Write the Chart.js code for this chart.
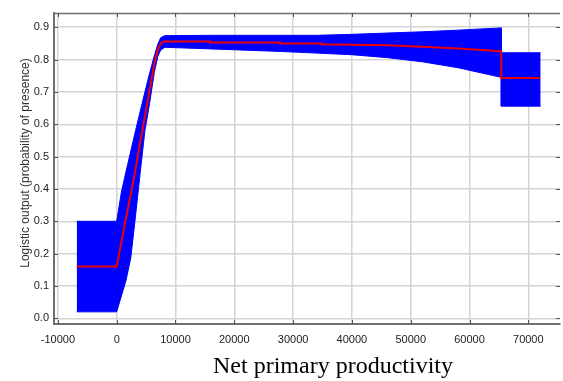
<!DOCTYPE html>
<html>
<head>
<meta charset="utf-8">
<script src="https://cdn.jsdelivr.net/npm/chart.js@4.4.1/dist/chart.umd.min.js"></script>
<style>
    html, body { margin: 0; padding: 0; background: #ffffff; }
    #wrap { width: 563px; height: 381px; }
</style>
</head>
<body>
<div id="wrap"><canvas id="chart" width="563" height="381"></canvas></div>
<script>
// response curve values
const bandX =     [-6800, 0,    800,   1600,  2400,  3200,  4000,  4800,  5600,  6400,  7000,  7500,  8200,  16000, 28000, 34000, 40000, 46000, 52000, 58000, 65400, 65400, 72100];
const bandUpper = [0.30,  0.30, 0.39,  0.455, 0.517, 0.58,  0.64,  0.70,  0.758, 0.812, 0.848, 0.868, 0.874, 0.875, 0.875, 0.875, 0.878, 0.882, 0.886, 0.891, 0.898, 0.821, 0.821];
const bandLower = [0.02,  0.02, 0.069, 0.118, 0.187, 0.316, 0.45,  0.58,  0.665, 0.76,  0.81,  0.83,  0.838, 0.833, 0.825, 0.82,  0.815, 0.806, 0.793, 0.775, 0.745, 0.656, 0.656];

const meanX = [-6800, 0,    1400,  2800, 4000,  5300,  6500,  7000, 7500, 8000,  15900, 15900, 27800, 27800, 34900, 34900, 40000, 46000, 52000, 58000, 63500, 65400, 65400, 72000];
const meanY = [0.16,  0.16, 0.293, 0.42, 0.545, 0.674, 0.797, 0.83, 0.85, 0.856, 0.856, 0.853, 0.853, 0.850, 0.850, 0.847, 0.846, 0.844, 0.840, 0.834, 0.828, 0.825, 0.743, 0.743];

const xTicks = [-10000, 0, 10000, 20000, 30000, 40000, 50000, 60000, 70000];
const yTicks = [0, 0.1, 0.2, 0.3, 0.4, 0.5, 0.6, 0.7, 0.8, 0.9];

const xTitle = 'Net primary productivity';
const yTitle = 'Logistic output (probability of presence)';

function toPoints(xs, ys) {
    return xs.map((x, i) => ({ x: x, y: ys[i] }));
}

// frame, inward tick marks and the axis titles
const framePlugin = {
    id: 'frame',
    afterDraw(chart) {
        const ctx = chart.ctx;
        const a = chart.chartArea;
        const xs = chart.scales.x;
        const ys = chart.scales.y;
        ctx.save();
        ctx.strokeStyle = '#707070';
        ctx.lineWidth = 1.5;
        ctx.beginPath();
        ctx.moveTo(a.left, a.top + 0.5);
        ctx.lineTo(a.right, a.top + 0.5);
        ctx.stroke();

        ctx.strokeStyle = '#555555';
        ctx.lineWidth = 1;
        ctx.beginPath();
        xTicks.forEach(v => {
            const px = Math.round(xs.getPixelForValue(v)) + 0.5;
            ctx.moveTo(px, a.bottom);
            ctx.lineTo(px, a.bottom - 4);
            ctx.moveTo(px, a.top);
            ctx.lineTo(px, a.top + 4);
        });
        yTicks.forEach(v => {
            const py = Math.round(ys.getPixelForValue(v)) + 0.5;
            ctx.moveTo(a.left, py);
            ctx.lineTo(a.left + 4, py);
            ctx.moveTo(a.right, py);
            ctx.lineTo(a.right - 4, py);
        });
        ctx.stroke();

        ctx.fillStyle = '#000000';
        ctx.font = '24px "Liberation Serif", "Times New Roman", serif';
        ctx.textAlign = 'center';
        ctx.textBaseline = 'alphabetic';
        ctx.fillText(xTitle, 333, 373);

        ctx.fillStyle = '#333333';
        ctx.font = '12px "Liberation Sans", Arial, sans-serif';
        ctx.translate(29, 163);
        ctx.rotate(-Math.PI / 2);
        ctx.fillText(yTitle, 0, 0);
        ctx.restore();
    }
};

const ctx = document.getElementById('chart').getContext('2d');
const chart = new Chart(ctx, {
    type: 'line',
    data: {
        datasets: [
            {
                label: 'mean',
                data: toPoints(meanX, meanY),
                borderColor: '#ee0000',
                borderWidth: 2,
                pointRadius: 0,
                tension: 0,
                fill: false
            },
            {
                label: 'upper',
                data: toPoints(bandX, bandUpper),
                borderColor: '#0000ff',
                borderWidth: 1,
                pointRadius: 0,
                tension: 0,
                fill: false
            },
            {
                label: 'lower',
                data: toPoints(bandX, bandLower),
                borderColor: '#0000ff',
                backgroundColor: '#0000ff',
                borderWidth: 1,
                pointRadius: 0,
                tension: 0,
                fill: '-1'
            }
        ]
    },
    options: {
        responsive: false,
        animation: false,
        devicePixelRatio: 1,
        layout: { padding: { top: 13, right: 3, left: 0, bottom: 0 } },
        plugins: {
            legend: { display: false },
            tooltip: { enabled: false },
            title: { display: false }
        },
        scales: {
            x: {
                type: 'linear',
                min: -10660,
                max: 75390,
                afterFit: (s) => { s.height = 57; },
                afterBuildTicks: (s) => { s.ticks = xTicks.map(v => ({ value: v })); },
                grid: { color: '#d4d4d4', lineWidth: 1.5, drawTicks: false },
                border: { color: '#707070', width: 2 },
                ticks: {
                    padding: 9,
                    maxRotation: 0,
                    autoSkip: false,
                    color: '#222222',
                    font: { family: '"Liberation Sans", Arial, sans-serif', size: 11 },
                    callback: (v) => String(v)
                }
            },
            y: {
                type: 'linear',
                min: -0.0176,
                max: 0.944,
                afterFit: (s) => { s.width = 54; },
                afterBuildTicks: (s) => { s.ticks = yTicks.map(v => ({ value: v })); },
                grid: { color: '#d4d4d4', lineWidth: 1.5, drawTicks: false },
                border: { color: '#707070', width: 2 },
                ticks: {
                    padding: 5,
                    autoSkip: false,
                    color: '#222222',
                    font: { family: '"Liberation Sans", Arial, sans-serif', size: 11 },
                    callback: (v) => Number(v).toFixed(1)
                }
            }
        }
    },
    plugins: [framePlugin]
});
</script>
</body>
</html>
